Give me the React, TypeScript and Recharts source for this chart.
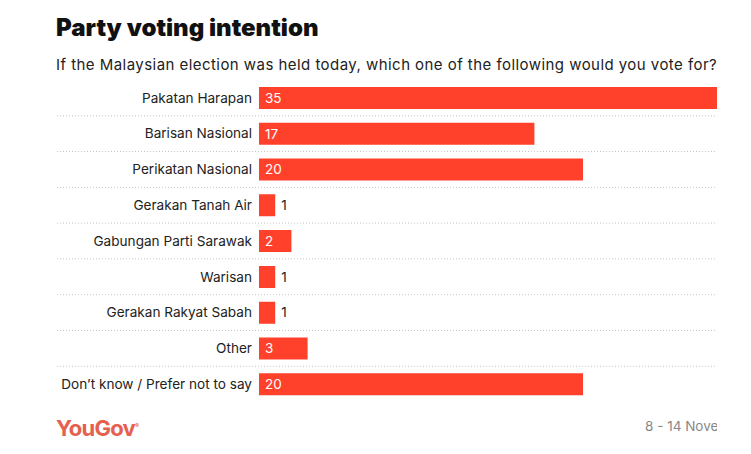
import React from "react";
import { BarChart, Bar, XAxis, YAxis, LabelList } from "recharts";

const parties = [
  "Pakatan Harapan",
  "Barisan Nasional",
  "Perikatan Nasional",
  "Gerakan Tanah Air",
  "Gabungan Parti Sarawak",
  "Warisan",
  "Gerakan Rakyat Sabah",
  "Other",
  "Don\u2019t know / Prefer not to say",
];
const shares = [35, 17, 20, 1, 2, 1, 1, 3, 20];
const xDomain = [0, 35];

const FONT = "Inter, 'Open Sans', sans-serif";
const RED = "#ff412c";

const data = parties.map((name, i) => ({ name, value: shares[i] }));

function PartyTick(props: any) {
  const { x, y, payload } = props;
  const half = payload?.offset ?? 17.9;
  const isLast = payload?.value === parties[parties.length - 1];
  return (
    <g>
      <text
        x={x - 7}
        y={y}
        dy="0.35em"
        textAnchor="end"
        fill="#222"
        fontSize={13.6}
        fontFamily={FONT}
      >
        {payload.value}
      </text>
      {!isLast && (
        <line
          x1={x - 202}
          x2={x + 600}
          y1={y + half}
          y2={y + half}
          stroke="#c4c4c4"
          strokeDasharray="1 2"
        />
      )}
    </g>
  );
}

function ValueLabel(props: any) {
  const { x, y, width, height, value } = props;
  const inside = value >= 2;
  return (
    <text
      x={inside ? x + 6 : x + width + 6}
      y={y + height / 2}
      dy="0.35em"
      fill={inside ? "#fff" : "#222"}
      fontSize={13.5}
      fontFamily={FONT}
    >
      {value}
    </text>
  );
}

export default function App() {
  return (
    <div
      style={{
        position: "relative",
        width: 709,
        height: 446,
        overflow: "hidden",
        background: "#fff",
        fontFamily: FONT,
      }}
    >
      <div
        style={{
          position: "absolute",
          left: 48,
          top: 6,
          fontSize: 24,
          lineHeight: "28px",
          fontWeight: 900,
          color: "#111",
          whiteSpace: "nowrap",
        }}
      >
        Party voting intention
      </div>
      <div
        style={{
          position: "absolute",
          left: 48,
          top: 48,
          fontSize: 15,
          lineHeight: "18px",
          letterSpacing: 0.45,
          color: "#222",
          whiteSpace: "nowrap",
        }}
      >
        If the Malaysian election was held today, which one of the following would you vote for?
      </div>
      <div style={{ position: "absolute", left: 0, top: 0 }}>
        <BarChart
          width={830}
          height={446}
          data={data}
          layout="vertical"
          margin={{ top: 72, right: 12, bottom: 52, left: 0 }}
        >
          <XAxis type="number" domain={xDomain} hide />
          <YAxis
            type="category"
            dataKey="name"
            width={251}
            axisLine={false}
            tickLine={false}
            tickSize={0}
            tickMargin={0}
            interval={0}
            tick={<PartyTick />}
          />
          <Bar dataKey="value" fill={RED} barSize={22} isAnimationActive={false}>
            <LabelList dataKey="value" content={<ValueLabel />} />
          </Bar>
        </BarChart>
      </div>
      <div
        style={{
          position: "absolute",
          left: 48,
          top: 405,
          fontSize: 22,
          lineHeight: "26px",
          fontWeight: 700,
          letterSpacing: -0.8,
          color: "#e5604e",
        }}
      >
        YouGov
        <sup style={{ fontSize: 6, fontWeight: 400, letterSpacing: 0 }}>®</sup>
      </div>
      <div
        style={{
          position: "absolute",
          left: 637,
          top: 410,
          fontSize: 13.5,
          lineHeight: "16px",
          color: "#888",
          whiteSpace: "nowrap",
        }}
      >
        8 - 14 November 2022
      </div>
    </div>
  );
}
